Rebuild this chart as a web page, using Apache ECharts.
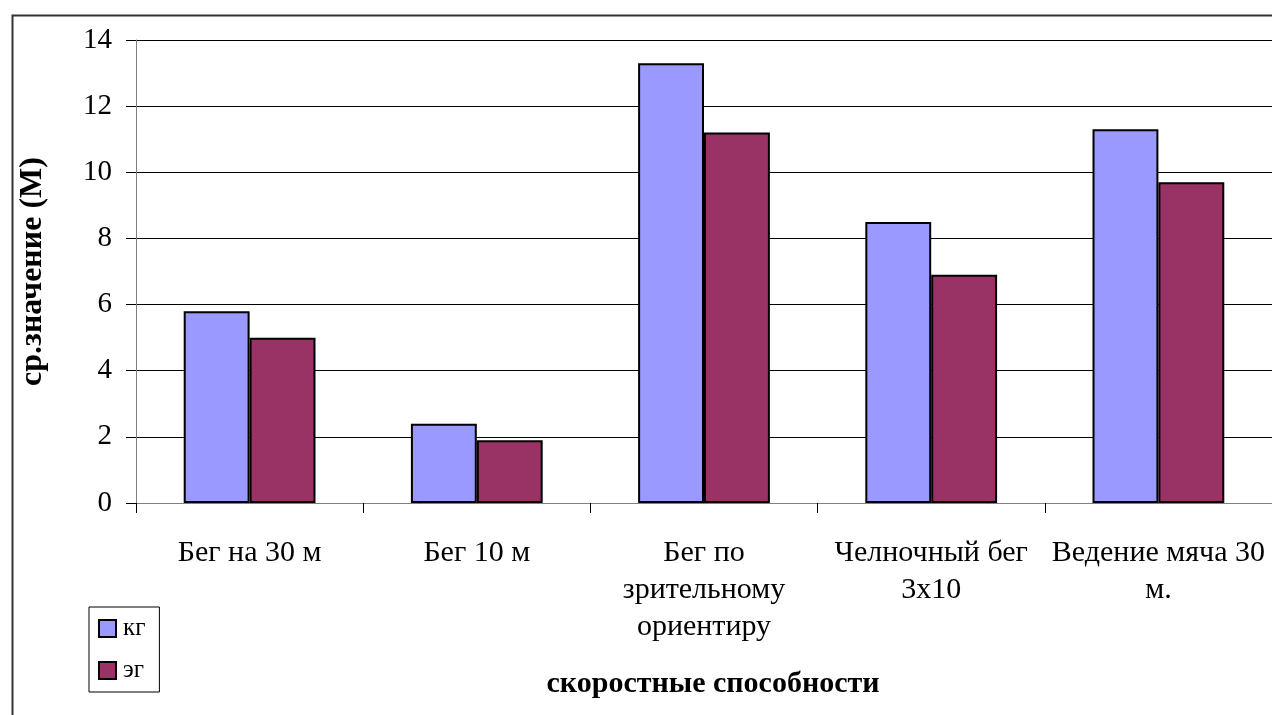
<!DOCTYPE html>
<html>
<head>
<meta charset="utf-8">
<script src="https://cdn.jsdelivr.net/npm/echarts@6/dist/echarts.min.js"></script>
<style>html,body{margin:0;padding:0;background:#fff}#c{width:1272px;height:715px}</style>
</head>
<body>
<div id="c"></div>
<script>
var categories = ['Бег на 30 м', 'Бег 10 м', 'Бег по\nзрительному\nориентиру', 'Челночный бег\n3х10', 'Ведение мяча 30\nм.'];
var seriesNames = ['кг', 'эг'];
var kgValues = [5.8, 2.4, 13.3, 8.5, 11.3];
var egValues = [5.0, 1.9, 11.2, 6.9, 9.7];
var yTicks = { min: 0, max: 14, interval: 2 };
var xTitle = 'скоростные способности';
var yTitle = 'ср.значение (М)';

var font = '"Liberation Serif", "Times New Roman", serif';
var chart = echarts.init(document.getElementById('c'));
chart.setOption({
  animation: false,
  backgroundColor: '#fff',
  textStyle: { fontFamily: font, color: '#000' },
  graphic: [{
    type: 'rect', left: 10, top: 13, silent: true, z: -1,
    shape: { width: 1300, height: 800 },
    style: { fill: 'none', stroke: '#333', lineWidth: 2 }
  }],
  grid: { left: 136, top: 40, right: 0, bottom: 212, containLabel: false, outerBoundsMode: 'none' },
  legend: {
    orient: 'vertical', left: 89, top: 607,
    padding: [9, 14, 9, 9], itemGap: 17, itemWidth: 17, itemHeight: 17,
    icon: 'rect',
    borderColor: '#000', borderWidth: 1,
    textStyle: { fontFamily: font, fontSize: 25, color: '#000', padding: [0, 0, 0, 2] },
    itemStyle: { borderColor: '#000', borderWidth: 2 },
    data: seriesNames
  },
  xAxis: {
    type: 'category', data: categories,
    axisLine: { lineStyle: { color: '#808080', width: 1 } },
    axisTick: { show: true, length: 10, lineStyle: { color: '#000' } },
    axisLabel: { fontFamily: font, fontSize: 30, color: '#000', margin: 32, lineHeight: 37, interval: 0 },
    name: xTitle, nameLocation: 'middle', nameGap: 166,
    nameTextStyle: { fontFamily: font, fontSize: 30, fontWeight: 'bold', color: '#000', padding: [0, 0, 0, 18] }
  },
  yAxis: {
    type: 'value', min: yTicks.min, max: yTicks.max, interval: yTicks.interval,
    axisLine: { show: true, lineStyle: { color: '#808080', width: 1 } },
    axisTick: { show: true, length: 10, lineStyle: { color: '#000' } },
    splitLine: { lineStyle: { color: '#000', width: 1 } },
    axisLabel: { fontFamily: font, fontSize: 29, color: '#000', margin: 24 },
    name: yTitle, nameLocation: 'middle', nameGap: 87,
    nameTextStyle: { fontFamily: font, fontSize: 32, fontWeight: 'bold', color: '#000' }
  },
  series: [{
    name: seriesNames[0], type: 'bar', data: kgValues,
    barGap: '0%', barCategoryGap: '42%',
    itemStyle: { color: '#9999FF', borderColor: '#000', borderWidth: 2 }
  }, {
    name: seriesNames[1], type: 'bar', data: egValues,
    barGap: '0%', barCategoryGap: '42%',
    itemStyle: { color: '#993366', borderColor: '#000', borderWidth: 2 }
  }]
});
</script>
</body>
</html>
